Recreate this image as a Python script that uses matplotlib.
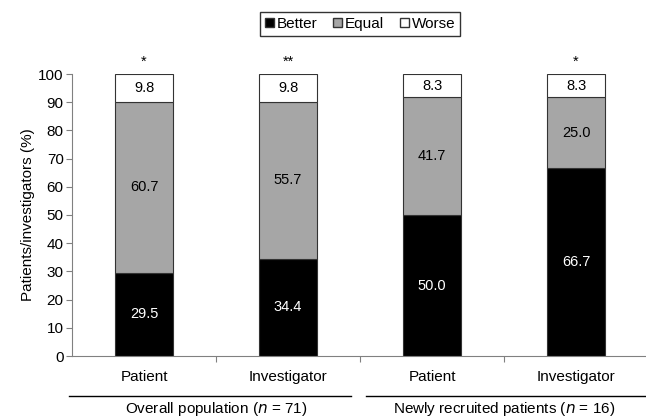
import numpy as np
import matplotlib
matplotlib.use('Agg')
import matplotlib.pyplot as plt
import matplotlib.transforms as mtransforms
from matplotlib.patches import Patch

plt.rcParams['font.family'] = ['Liberation Sans', 'DejaVu Sans']

# data
categories = ['Patient', 'Investigator', 'Patient', 'Investigator']
better = [29.5, 34.4, 50.0, 66.7]
equal = [60.7, 55.7, 41.7, 25.0]
worse = [9.8, 9.8, 8.3, 8.3]
stars = ['*', '**', '', '*']
groups = ['Overall population ($\\it{n}$ = 71)',
          'Newly recruited patients ($\\it{n}$ = 16)']

fig = plt.figure(figsize=(6.46, 4.2), dpi=100)
ax = fig.add_axes([72/646, 1-356/420, 574/646, 282/420])

x = np.arange(len(categories))
w = 0.40
ec = '#333333'
ax.bar(x, better, w, color='black', edgecolor=ec, linewidth=0.8)
ax.bar(x, equal, w, bottom=better, color='#a6a6a6', edgecolor=ec,
       linewidth=0.8)
bot = np.array(better) + np.array(equal)
ax.bar(x, worse, w, bottom=bot, color='white', edgecolor=ec, linewidth=0.8)

fs = 10.5
for i in range(len(x)):
    ax.text(x[i], better[i]/2, '%.1f' % better[i], ha='center', va='center',
            color='white', fontsize=fs)
    ax.text(x[i], better[i] + equal[i]/2, '%.1f' % equal[i], ha='center',
            va='center', color='black', fontsize=fs)
    ax.text(x[i], bot[i] + worse[i]/2, '%.1f' % worse[i], ha='center',
            va='center', color='black', fontsize=fs)
    ax.text(x[i], 104.5, stars[i], ha='center', va='center', fontsize=fs)

ax.set_ylim(0, 100)
ax.set_xlim(-0.5, 3.486)
ax.set_yticks(np.arange(0, 101, 10))
ax.set_ylabel('Patients/investigators (%)', fontsize=11, labelpad=2)
ax.tick_params(axis='y', labelsize=11, length=4, color='#808080', pad=2)

# category ticks between bars, labels under bars
ax.set_xticks([0.5, 1.5, 2.5])
ax.set_xticklabels([])
ax.tick_params(axis='x', length=4, color='#808080')
for i, c in enumerate(categories):
    ax.text(x[i], -5.0, c, ha='center', va='top', fontsize=11)

for s in ['top', 'right']:
    ax.spines[s].set_visible(False)
ax.spines['left'].set_color('#808080')
ax.spines['bottom'].set_color('#808080')

# group lines and labels
trans = mtransforms.blended_transform_factory(ax.transData, ax.transAxes)
yl = -40/282
ax.plot([-0.521, 1.438], [yl, yl], color='black', lw=1, clip_on=False,
        transform=trans)
ax.plot([1.542, 3.486], [yl, yl], color='black', lw=1, clip_on=False,
        transform=trans)
ax.text(0.5, -53/282, groups[0], ha='center', va='center', fontsize=11,
        transform=trans)
ax.text(2.5, -53/282, groups[1], ha='center', va='center', fontsize=11,
        transform=trans)

handles = [Patch(facecolor='black', edgecolor=ec),
           Patch(facecolor='#a6a6a6', edgecolor=ec),
           Patch(facecolor='white', edgecolor=ec)]
leg = fig.legend(handles, ['Better', 'Equal', 'Worse'], loc='center',
                 bbox_to_anchor=(360/646, 1-24/420), ncol=3, fontsize=11,
                 frameon=True, fancybox=False, handlelength=0.6,
                 handleheight=0.6, handletextpad=0.2, columnspacing=1.0,
                 borderpad=0.3)
leg.get_frame().set_edgecolor('black')
leg.get_frame().set_linewidth(1)

fig.savefig('out.png', dpi=100)
